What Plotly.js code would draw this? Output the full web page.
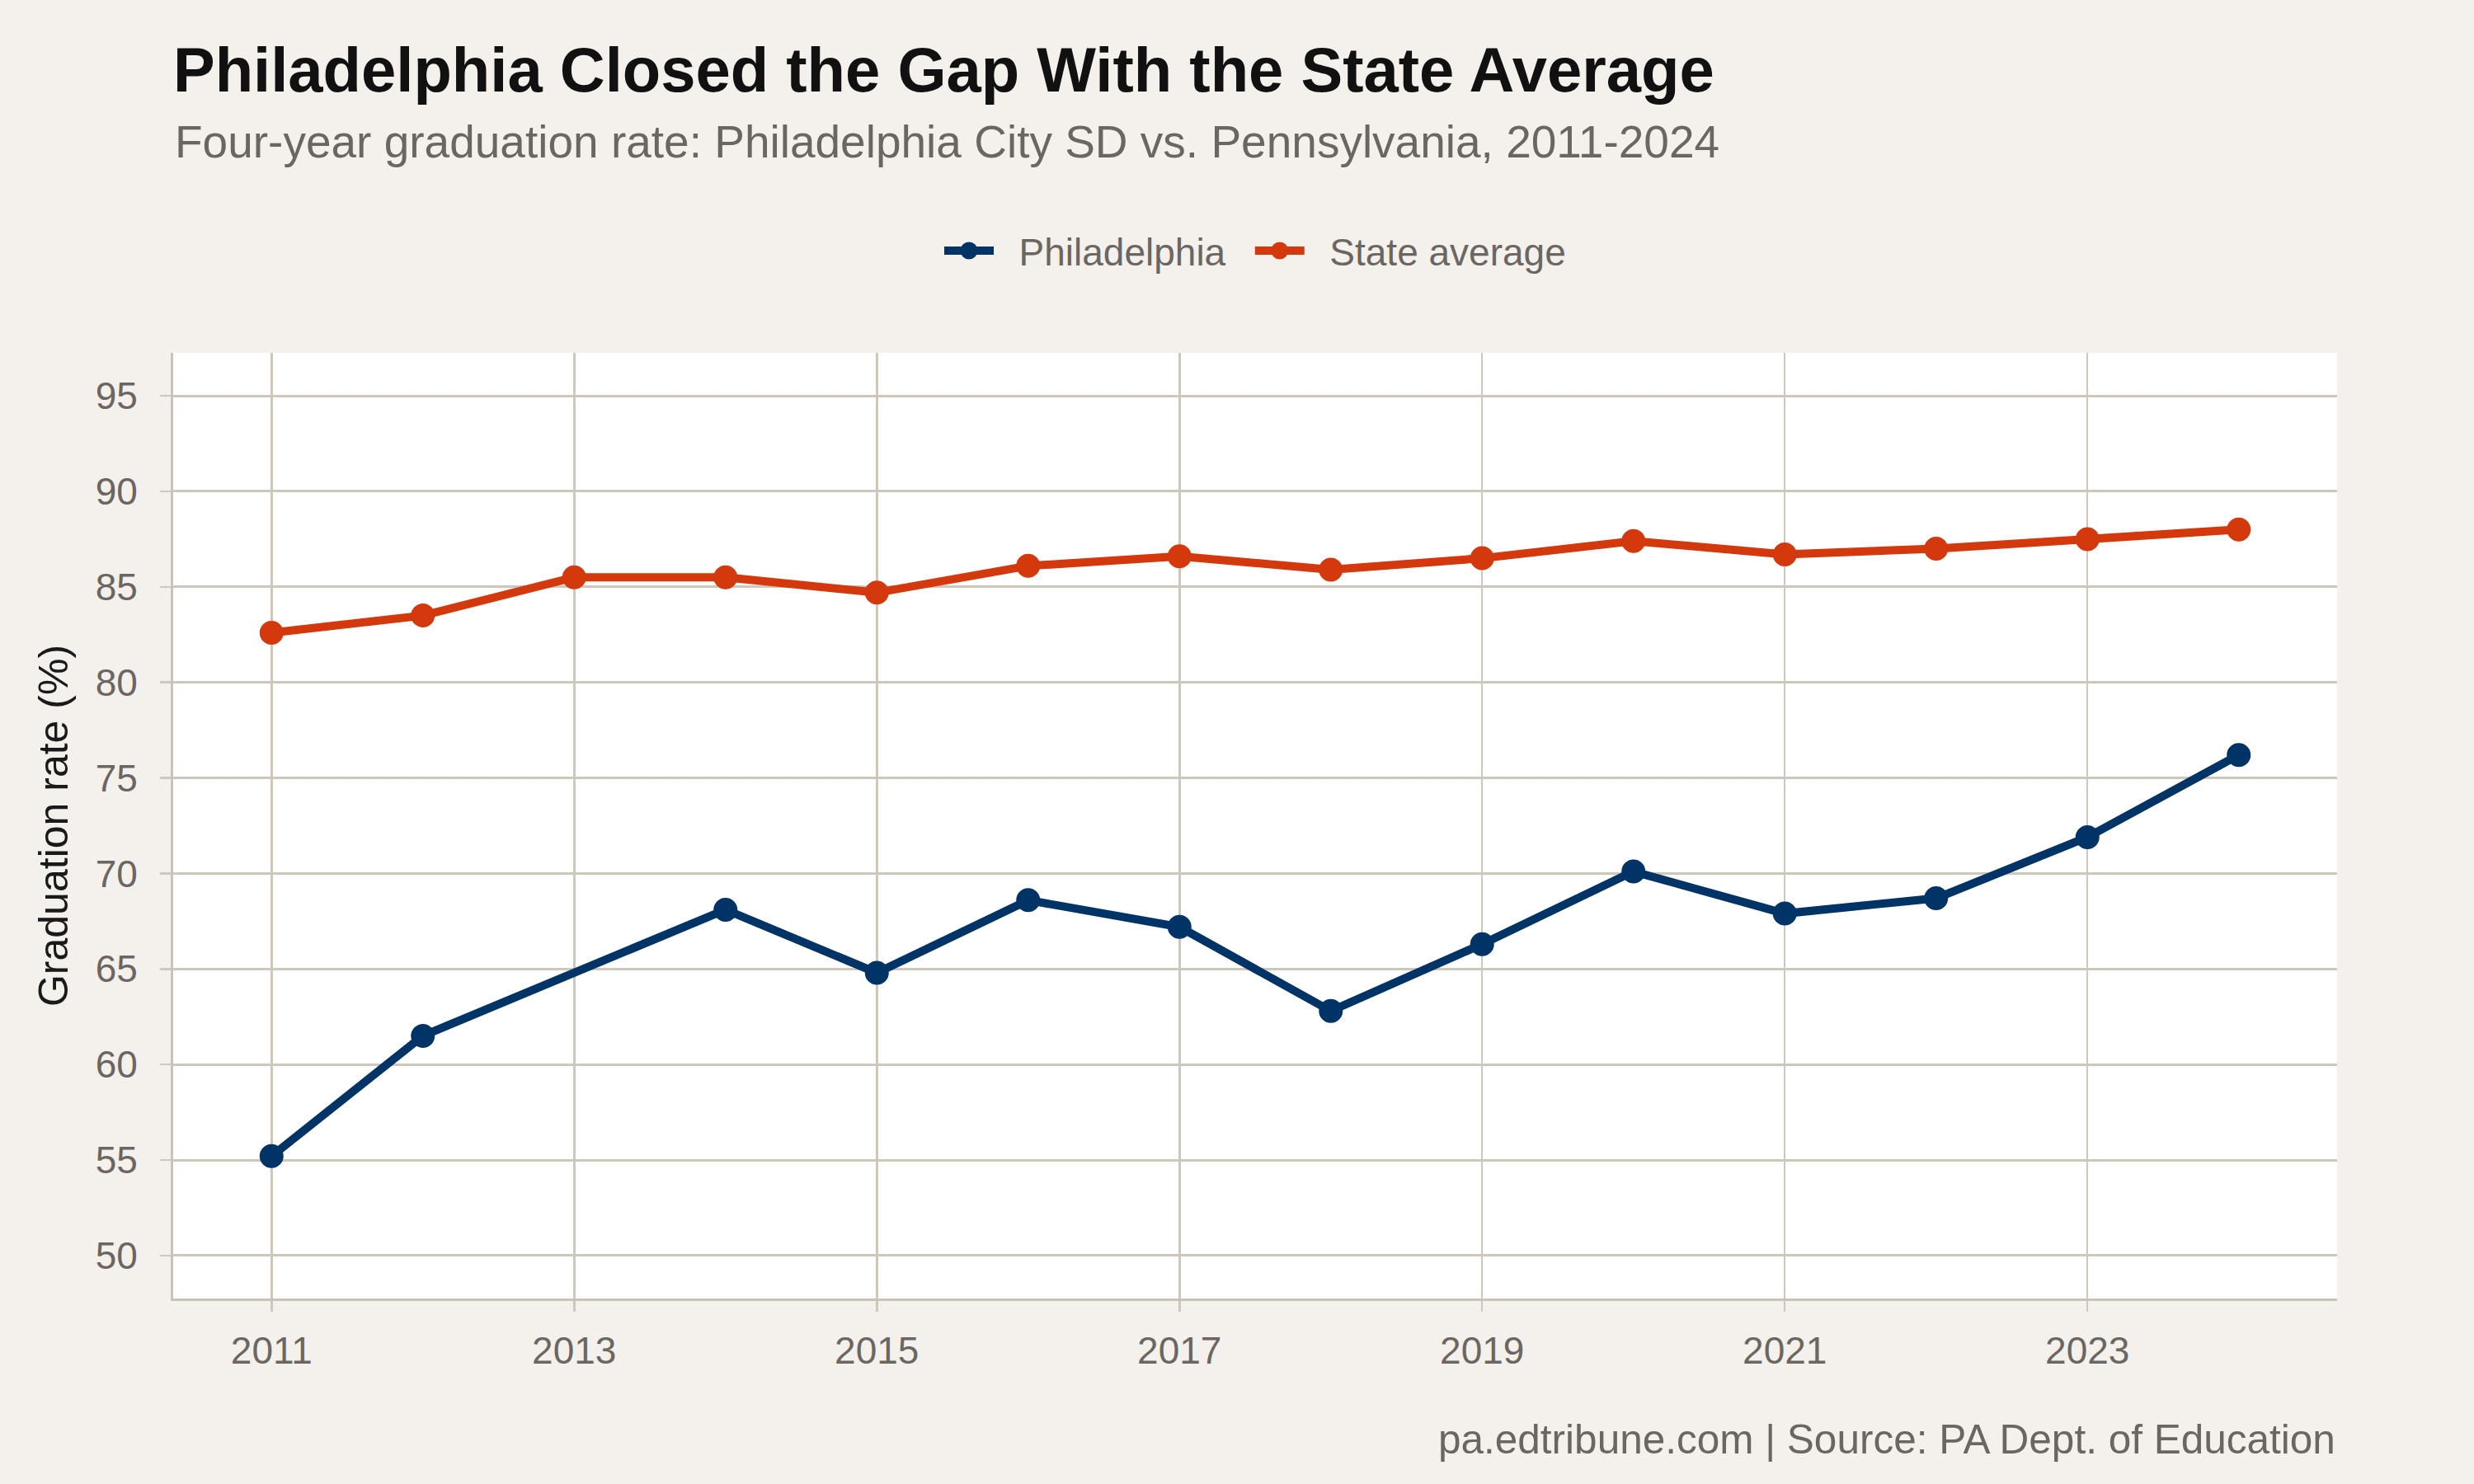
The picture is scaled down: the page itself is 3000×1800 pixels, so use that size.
<!DOCTYPE html>
<html>
<head>
<meta charset="utf-8">
<script src="https://cdn.plot.ly/plotly-3.0.1.min.js"></script>
<style>
html, body { margin: 0; padding: 0; background: #f4f1ec; }
#chart { width: 3000px; height: 1800px; }
</style>
</head>
<body>
<div id="chart"></div>
<script>
// ---- Data ----
const phillyYears = [2011, 2012, 2014, 2015, 2016, 2017, 2018, 2019, 2020, 2021, 2022, 2023, 2024];
const phillyRate  = [55.2, 61.5, 68.1, 64.8, 68.6, 67.2, 62.8, 66.3, 70.1, 67.9, 68.7, 71.9, 76.2];
const stateYears  = [2011, 2012, 2013, 2014, 2015, 2016, 2017, 2018, 2019, 2020, 2021, 2022, 2023, 2024];
const stateRate   = [82.6, 83.5, 85.5, 85.5, 84.7, 86.1, 86.6, 85.9, 86.5, 87.4, 86.7, 87.0, 87.5, 88.0];
const xTickVals   = [2011, 2013, 2015, 2017, 2019, 2021, 2023];
const yTickVals   = [50, 55, 60, 65, 70, 75, 80, 85, 90, 95];
const seriesNames = ["Philadelphia", "State average"];

const titleText    = "Philadelphia Closed the Gap With the State Average";
const subtitleText = "Four-year graduation rate: Philadelphia City SD vs. Pennsylvania, 2011-2024";
const captionText  = "pa.edtribune.com | Source: PA Dept. of Education";
const yTitleText   = "Graduation rate (%)";

// ---- Style ----
const FONT = '"Liberation Sans", Arial, Helvetica, sans-serif';
const BG = "#f4f1ec";
const GRID = "#cec7bc";
const AXIS = "#c9c2b7";
const GREY_TEXT = "#6b6661";
const NAVY = "#003366";
const ORANGE = "#d4380d";
const NB = "\u00a0";

function series(label, xs, ys, color) {
  return {
    type: "scatter",
    mode: "lines+markers",
    name: label,
    x: xs,
    y: ys,
    line: { color: color, width: 10 },
    marker: { color: color, size: 24, line: { color: color, width: 5 } },
    hoverinfo: "x+y"
  };
}

const traces = [
  series(NB + NB + seriesNames[0] + NB + NB, phillyYears, phillyRate, NAVY),
  series(NB + NB + seriesNames[1], stateYears, stateRate, ORANGE)
];

const layout = {
  width: 3000,
  height: 1800,
  paper_bgcolor: BG,
  plot_bgcolor: "#ffffff",
  margin: { l: 210, r: 166, t: 428, b: 225, pad: 0 },
  font: { family: FONT, color: GREY_TEXT },
  title: {
    text: "<b>" + titleText + "</b>",
    font: { family: FONT, size: 76, color: "#111111" },
    xref: "paper", x: 0, xanchor: "left",
    yref: "container", y: 0.9678, yanchor: "top"
  },
  showlegend: true,
  legend: {
    orientation: "h",
    x: 0.5, xanchor: "center",
    y: 1.108, yanchor: "middle",
    font: { family: FONT, size: 46, color: GREY_TEXT },
    bgcolor: "rgba(0,0,0,0)",
    itemwidth: 60,
    traceorder: "normal"
  },
  xaxis: {
    range: [2010.35, 2024.65],
    tickmode: "array",
    tickvals: xTickVals,
    ticktext: xTickVals.map(String),
    showgrid: true, gridcolor: GRID, gridwidth: 2.5,
    zeroline: false,
    showline: true, linecolor: AXIS, linewidth: 3,
    ticks: "outside", ticklen: 13, tickwidth: 2.5, tickcolor: GRID,
    tickfont: { family: FONT, size: 46, color: GREY_TEXT },
    ticklabelstandoff: 8
  },
  yaxis: {
    range: [47.75, 97.25],
    tickmode: "array",
    tickvals: yTickVals,
    ticktext: yTickVals.map(String),
    showgrid: true, gridcolor: GRID, gridwidth: 3,
    zeroline: false,
    showline: true, linecolor: AXIS, linewidth: 3,
    ticks: "outside", ticklen: 13, tickwidth: 2.5, tickcolor: GRID,
    tickfont: { family: FONT, size: 46, color: GREY_TEXT },
    ticklabelstandoff: 18,
    title: {
      text: yTitleText,
      font: { family: FONT, size: 50, color: "#1a1a1a" },
      standoff: 18
    }
  },
  annotations: [
    {
      text: subtitleText,
      xref: "paper", x: 0, xanchor: "left",
      yref: "paper", y: 1.2234, yanchor: "middle",
      showarrow: false,
      font: { family: FONT, size: 55, color: GREY_TEXT }
    },
    {
      text: captionText,
      xref: "paper", x: 1, xanchor: "right",
      yref: "paper", y: -0.1483, yanchor: "middle",
      showarrow: false,
      font: { family: FONT, size: 49.5, color: GREY_TEXT }
    }
  ]
};

Plotly.newPlot("chart", traces, layout, { displayModeBar: false, staticPlot: true });
</script>
</body>
</html>
